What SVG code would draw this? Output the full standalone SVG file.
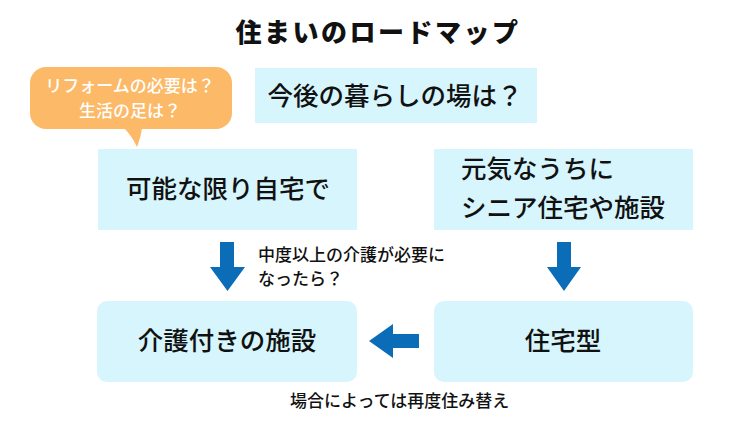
<svg xmlns="http://www.w3.org/2000/svg" width="755" height="431" viewBox="0 0 755 431">
<style>
.box{fill:#D6F5FC}
.t{font-family:"Noto Sans CJK JP","Noto Sans",sans-serif;fill:#111}
.big{font-size:25.5px;font-weight:500}
.lbl{font-size:17px;font-weight:500}
.arr{fill:#0B6DB8}
</style>
<rect width="755" height="431" fill="#fff"/>
<text class="t" x="378" y="42" text-anchor="middle" font-size="26" font-weight="900" letter-spacing="2.5">住まいのロードマップ</text>
<g id="bubble">
<rect x="30" y="67" width="202" height="62" rx="16" fill="#FCB968"/>
<path d="M124 128 Q132 136 137 147 Q141 136 142 128 Z" fill="#FCB968"/>
<text class="t" font-size="17" font-weight="500" style="fill:#fff" text-anchor="middle"><tspan x="130" y="92">リフォームの必要は？</tspan><tspan x="130" y="117">生活の足は？</tspan></text>
</g>
<g id="n-question">
<rect class="box" x="255" y="68" width="282" height="55"/>
<text class="t big" x="395" y="105" text-anchor="middle">今後の暮らしの場は？</text>
</g>
<g id="n-home">
<rect class="box" x="98" y="149" width="259" height="81"/>
<text class="t big" x="228" y="198" text-anchor="middle">可能な限り自宅で</text>
</g>
<g id="n-senior">
<rect class="box" x="434" y="149" width="259" height="81"/>
<text class="t big"><tspan x="461" y="178">元気なうちに</tspan><tspan x="461" y="217">シニア住宅や施設</tspan></text>
</g>
<g id="n-care">
<rect class="box" x="97" y="301" width="260" height="81" rx="10"/>
<text class="t big" x="227" y="350" text-anchor="middle">介護付きの施設</text>
</g>
<g id="n-residential">
<rect class="box" x="434" y="301" width="259" height="81" rx="10"/>
<text class="t big" x="563" y="350" text-anchor="middle">住宅型</text>
</g>
<g id="connectors">
<path class="arr" d="M220 242 H234 V267 H245 L227.5 291 L210 267 H220 Z"/>
<path class="arr" d="M557 242 H571 V267 H581 L564 291 L547 267 H557 Z"/>
<path class="arr" d="M419 334 V348 H393 V358 L369 341 L393 324 V334 Z"/>
</g>
<text class="t lbl"><tspan x="258" y="261">中度以上の介護が必要に</tspan><tspan x="258" y="285">なったら？</tspan></text>
<text class="t lbl" x="290" y="407">場合によっては再度住み替え</text>
</svg>
